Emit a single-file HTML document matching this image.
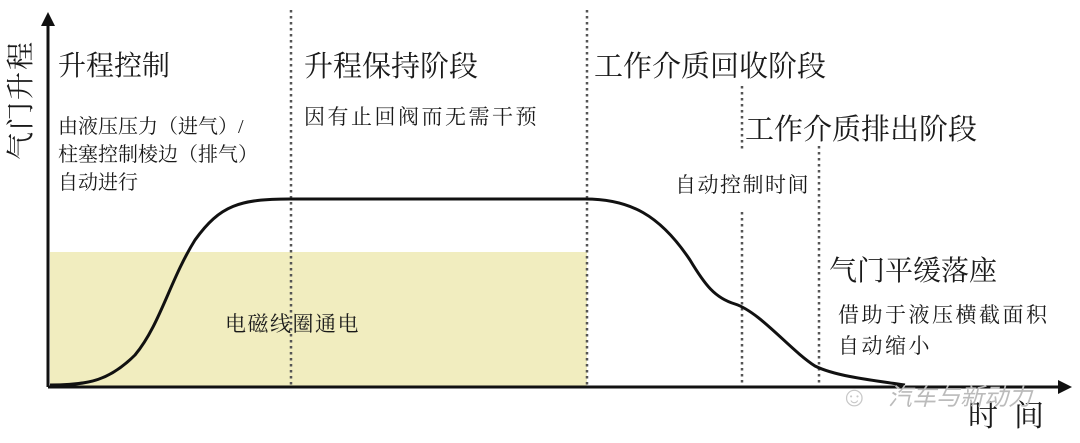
<!DOCTYPE html>
<html><head><meta charset="utf-8"><style>
html,body{margin:0;padding:0;background:#fff;}
body{width:1080px;height:443px;position:relative;overflow:hidden;font-family:"Liberation Serif","Noto Serif CJK SC",serif;color:#1a1a1a;}
.t{position:absolute;white-space:nowrap;line-height:1;}
</style></head><body>
<svg width="1080" height="443" style="position:absolute;left:0;top:0">
<rect x="50" y="252" width="537" height="134" fill="#f1edbf"/>
<g stroke="#555" stroke-width="2.5" stroke-dasharray="2.5,3.5">
<line x1="291" y1="10" x2="291" y2="386"/>
<line x1="587" y1="10" x2="587" y2="386"/>
<line x1="742" y1="86" x2="742" y2="152"/>
<line x1="742" y1="212" x2="742" y2="386"/>
<line x1="819" y1="146" x2="819" y2="386"/>
</g>
<line x1="48" y1="387" x2="1060" y2="387" stroke="#111" stroke-width="3"/>
<polygon points="1072,387 1058,380 1058,394" fill="#111"/>
<line x1="48" y1="387" x2="48" y2="24" stroke="#111" stroke-width="3"/>
<polygon points="48,12 41,26 55,26" fill="#111"/>
<path d="M50,385 C90,385 110,380 135,355 C160,325 170,280 195,240 C220,205 240,199 290,199 L585,199 C630,199 660,215 690,260 C705,285 715,298 735,304 C760,312 790,350 815,366 C835,376 870,380 905,385" fill="none" stroke="#111" stroke-width="3"/>
</svg>
<div class="t" style="left:-38px;top:86px;font-size:28px;transform:rotate(-90deg);letter-spacing:2px;">气门升程</div>
<div class="t" style="left:58px;top:53px;font-size:28px;">升程控制</div>
<div class="t" style="left:58px;top:113px;font-size:20px;line-height:28px;">由液压压力（进气）/<br>柱塞控制棱边（排气）<br>自动进行</div>
<div class="t" style="left:304px;top:53px;font-size:29px;">升程保持阶段</div>
<div class="t" style="left:304px;top:107px;font-size:21px;letter-spacing:2.5px;">因有止回阀而无需干预</div>
<div class="t" style="left:594px;top:53px;font-size:29px;">工作介质回收阶段</div>
<div class="t" style="left:745px;top:116px;font-size:29px;">工作介质排出阶段</div>
<div class="t" style="left:675px;top:175px;font-size:21px;letter-spacing:1.5px;">自动控制时间</div>
<div class="t" style="left:829px;top:258px;font-size:28px;">气门平缓落座</div>
<div class="t" style="left:838px;top:300px;font-size:21px;letter-spacing:2.5px;line-height:31px;">借助于液压横截面积<br>自动缩小</div>
<div class="t" style="left:225px;top:314px;font-size:21px;letter-spacing:1.5px;">电磁线圈通电</div>
<div class="t" style="left:968px;top:402px;font-size:30px;letter-spacing:16px;">时间</div>
<div class="t" style="left:888px;top:386px;font-size:24px;color:#bbb;font-style:italic;font-family:'Liberation Sans','Noto Sans CJK SC',sans-serif;">汽车与新动力</div>
<div class="t" style="left:840px;top:384px;font-size:28px;color:#c8c8c8;">☺</div>
</body></html>
